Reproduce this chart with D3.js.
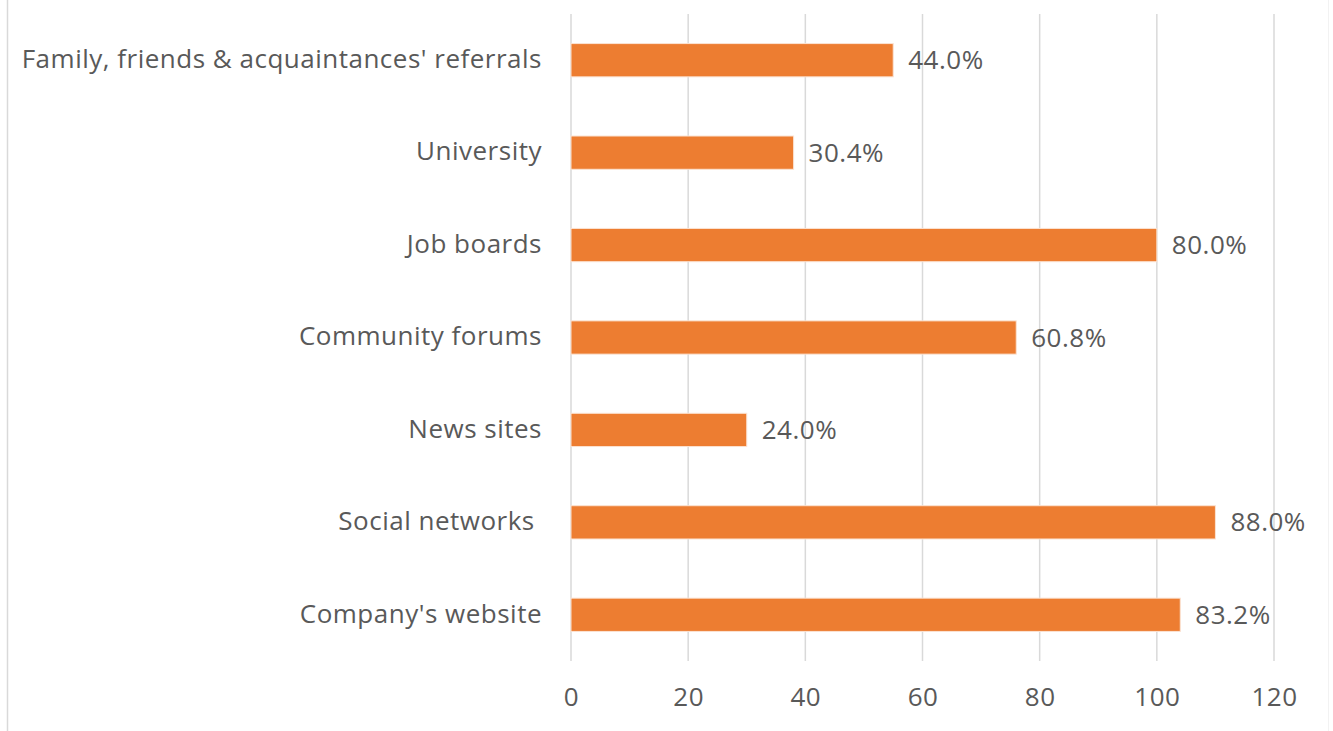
<!DOCTYPE html>
<html>
<head>
<meta charset="utf-8">
<script src="https://cdn.jsdelivr.net/npm/d3@7"></script>
<style>
  html, body { margin: 0; padding: 0; background: #fff; }
  svg { display: block; }
  text { font-family: "Open Sans", "Noto Sans", sans-serif; fill: #595959; white-space: pre; letter-spacing: 0.5px; }
</style>
</head>
<body>
<svg id="chart" width="1333" height="731"></svg>
<script>
// Recruitment channels and the number of respondents (out of 125) using each
const categories = [
  "Family, friends & acquaintances' referrals",
  "University",
  "Job boards",
  "Community forums",
  "News sites",
  "Social networks ",
  "Company's website"
];
const counts = [55, 38, 100, 76, 30, 110, 104];
const respondents = 125;
const xTicks = [0, 20, 40, 60, 80, 100, 120];

const svg = d3.select("#chart");
const W = 1333, H = 731;
const plot = { left: 571, right: 1274, top: 14, bottom: 661 };
const fontSize = "26px";

// Outer chart frame (left and right edges)
svg.append("line").attr("x1", 7.5).attr("x2", 7.5).attr("y1", 0).attr("y2", H)
  .attr("stroke", "#d9d9d9").attr("stroke-width", 1.5);
svg.append("line").attr("x1", 1328.5).attr("x2", 1328.5).attr("y1", 0).attr("y2", H)
  .attr("stroke", "#f2f2f2").attr("stroke-width", 1);

const x = d3.scaleLinear().domain([0, 120]).range([plot.left, plot.right]);
const y = d3.scaleBand().domain(categories).range([plot.top, plot.bottom]).paddingInner(0.64).paddingOuter(0.32);

// Vertical gridlines
svg.append("g").selectAll("line").data(xTicks).join("line")
  .attr("x1", d => x(d)).attr("x2", d => x(d))
  .attr("y1", plot.top).attr("y2", plot.bottom)
  .attr("stroke", "#d9d9d9").attr("stroke-width", 1.5);

// X axis tick labels
const xAxis = d3.axisBottom(x).tickValues(xTicks).tickSize(0).tickPadding(0);
const gx = svg.append("g").attr("transform", `translate(0, ${plot.bottom})`).call(xAxis);
gx.select(".domain").remove();
gx.selectAll("text")
  .attr("dy", null).attr("y", 45)
  .style("font-size", fontSize)
  .style("font-family", "\"Open Sans\", sans-serif")
  .attr("fill", "#595959");

// Category labels
const yAxis = d3.axisLeft(y).tickSize(0).tickPadding(29);
const gy = svg.append("g").attr("transform", `translate(${plot.left}, 0)`).call(yAxis);
gy.select(".domain").remove();
gy.selectAll("text")
  .attr("dy", "0.3em")
  .style("font-size", fontSize)
  .style("font-family", "\"Open Sans\", sans-serif")
  .attr("fill", "#595959");

// Bars
const rows = categories.map((c, i) => ({ c, v: counts[i] }));
svg.append("g").selectAll("rect").data(rows).join("rect")
  .attr("x", x(0))
  .attr("y", d => y(d.c))
  .attr("width", d => x(d.v) - x(0))
  .attr("height", y.bandwidth())
  .attr("fill", "#ED7D31")
  .attr("stroke", "#fbe3d3")
  .attr("stroke-width", 1);

// Percentage labels
const fmt = d3.format(".1%");
svg.append("g").selectAll("text").data(rows).join("text")
  .attr("x", d => x(d.v) + 15)
  .attr("y", d => y(d.c) + y.bandwidth() / 2)
  .attr("dy", "0.35em")
  .style("font-size", fontSize)
  .text(d => fmt(d.v / respondents));
</script>
</body>
</html>
